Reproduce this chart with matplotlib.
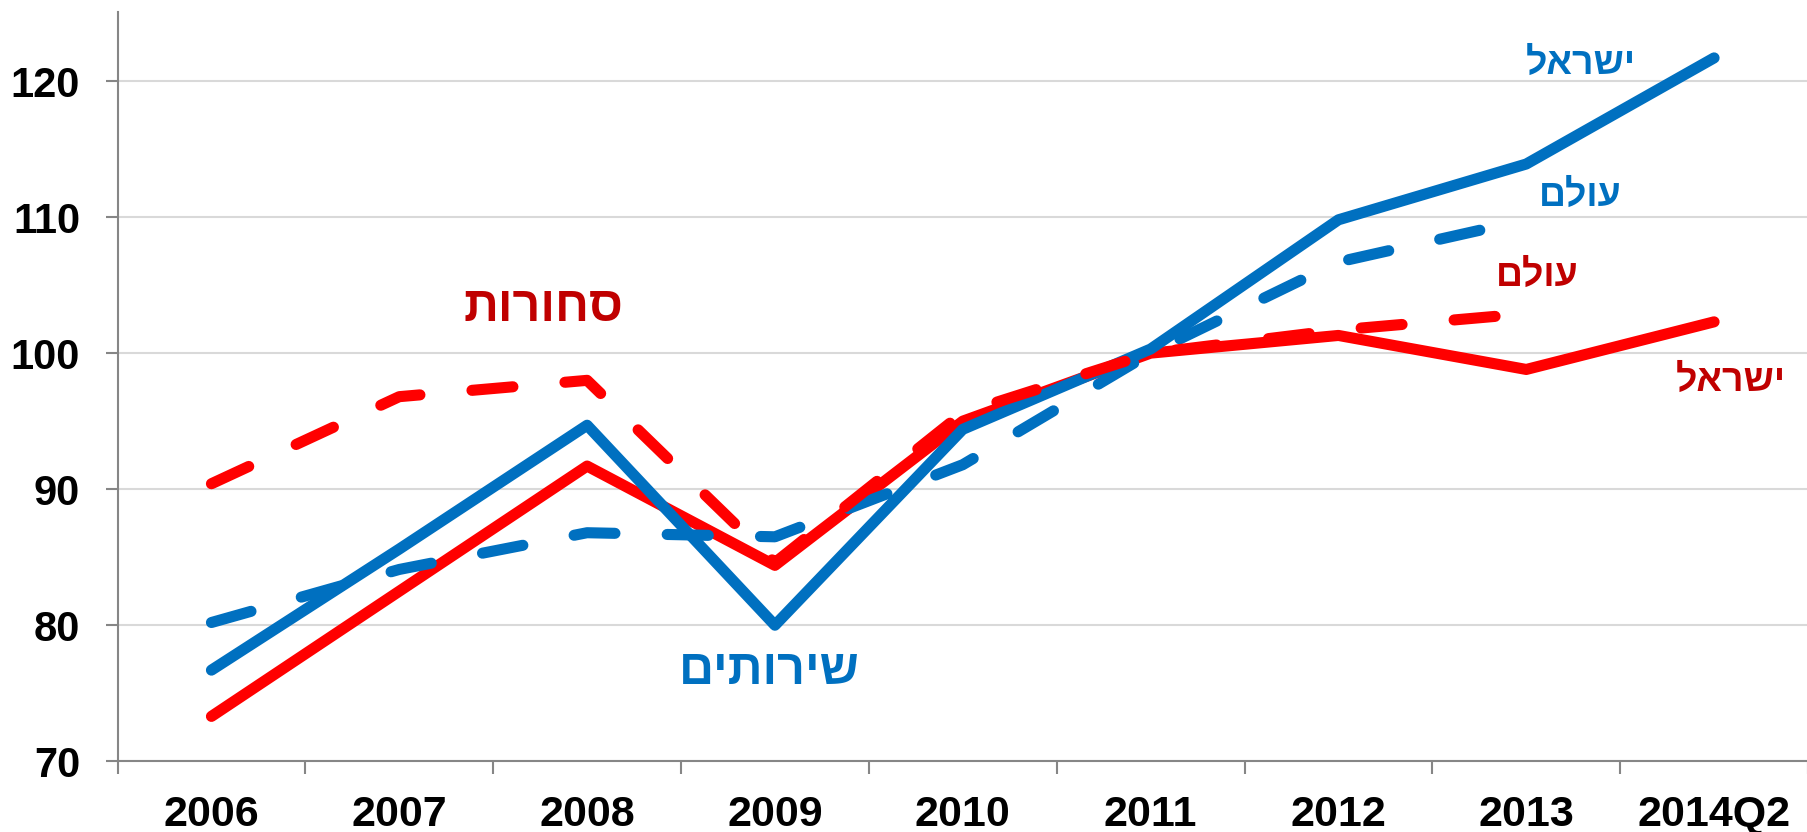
import numpy as np
import matplotlib.pyplot as plt

plt.rcParams['font.family'] = ['Liberation Sans', 'DejaVu Sans']

periods = ['2006', '2007', '2008', '2009', '2010', '2011', '2012', '2013', '2014Q2']
services_israel = [76.7, 85.6, 94.7, 80.0, 94.4, 100.3, 109.8, 113.9, 121.7]
services_world = [80.2, 84.1, 86.8, 86.5, 91.8, 100.0, 106.7, 109.8, np.nan]
goods_israel = [73.3, 82.5, 91.7, 84.4, 95.0, 100.0, 101.3, 98.8, 102.3]
goods_world = [90.4, 96.8, 98.0, 84.6, 95.6, 100.0, 101.7, 102.9, np.nan]

BLUE = '#0070C0'
RED = '#FF0000'
DARK_RED = '#C00000'


def heb(s):
    # matplotlib has no bidi support, so flip the Hebrew text by hand
    return s[::-1]


def main():
    fig = plt.figure(figsize=(18.08, 8.32), dpi=100)
    ax = fig.add_axes([0.065, 0.085, 0.935, 0.901])
    x = np.arange(len(periods))

    lw = 8
    style = dict(lw=lw, solid_capstyle='round', dash_capstyle='round', solid_joinstyle='round')
    dash = (3.7, 4.7)
    ax.plot(x, goods_israel, color=RED, **style, zorder=3)
    ax.plot(x, services_israel, color=BLUE, **style, zorder=4)
    ax.plot(x, services_world, color=BLUE, dashes=dash, **style, zorder=5)
    ax.plot(x, goods_world, color=RED, dashes=dash, **style, zorder=6)

    ax.set_xlim(-0.5, len(periods) - 0.5)
    ax.set_ylim(70, 125.1)
    ax.set_yticks([70, 80, 90, 100, 110, 120])
    ax.grid(axis='y', color='#d9d9d9', lw=1.5, zorder=0)
    ax.set_axisbelow(True)

    # category ticks between periods, labels in the middle
    ax.set_xticks(np.arange(-0.5, len(periods), 1.0))
    ax.set_xticklabels([])
    ax.set_xticks(x, minor=True)
    ax.set_xticklabels(periods, minor=True, fontsize=31, fontweight='bold')
    ax.tick_params(axis='x', which='major', length=9, width=1.5, color='#868686', direction='out')
    ax.tick_params(axis='x', which='minor', length=0, pad=24)
    ax.tick_params(axis='y', length=9, width=1.5, color='#868686', pad=18)
    for lab in ax.get_yticklabels():
        lab.set_fontweight('bold')
        lab.set_fontsize(30)

    for side in ['top', 'right']:
        ax.spines[side].set_visible(False)
    for side in ['left', 'bottom']:
        ax.spines[side].set_color('#868686')
        ax.spines[side].set_linewidth(1.5)

    small = dict(fontsize=27, fontweight='bold', ha='center', va='center')
    big = dict(fontsize=35, fontweight='bold', ha='center', va='center')
    ax.text(7.29, 121.25, heb('ישראל'), color=BLUE, **small)
    ax.text(7.29, 111.55, heb('עולם'), color=BLUE, **small)
    ax.text(7.06, 105.65, heb('עולם'), color=DARK_RED, **small)
    ax.text(8.09, 97.95, heb('ישראל'), color=DARK_RED, **small)
    ax.text(1.77, 103.3, heb('סחורות'), color=DARK_RED, **big)
    ax.text(2.97, 76.6, heb('שירותים'), color=BLUE, **big)

    fig.savefig('out.png', dpi=100)


if __name__ == '__main__':
    main()
